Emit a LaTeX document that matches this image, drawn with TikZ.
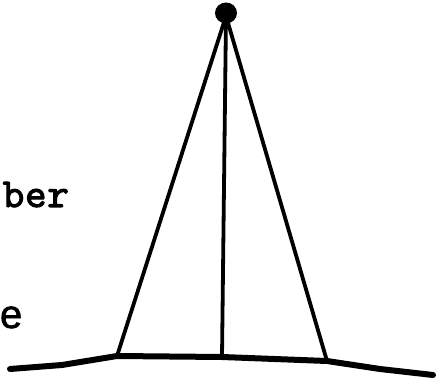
\documentclass[tikz,border=0pt]{standalone}
\usepackage{fontspec}
\newfontfamily\twf{lmmono10-regular.otf}[LetterSpace=2,FakeBold=2.5]
\newfontfamily\sansf{Liberation Sans}[FakeBold=1.5]
\begin{document}
\begin{tikzpicture}[x=1pt,y=-1pt,
  leg/.style={line width=3.8pt,line cap=round},
  groundline/.style={line width=6pt,line cap=round,line join=round},
  lbl/.style={inner sep=0pt,outer sep=0pt}]
\useasboundingbox (0,0) rectangle (442,382);
% apex and feet
\coordinate (apex) at (226,16);
\coordinate (lf) at (117,356);
\coordinate (cf) at (222,357);
\coordinate (rf) at (327,361);
\coordinate (gl) at (10,369);
\coordinate (gl2) at (62,365);
\coordinate (gr2) at (380,369);
\coordinate (gr) at (433,375);
% legs
\draw[leg] (apex) -- (lf);
\draw[leg] (apex) -- (cf);
\draw[leg] (apex) -- (rf);
% ground
\draw[groundline] (gl) -- (gl2) -- (lf) -- (cf) -- (rf) -- (gr2) -- (gr);
% top ball
\fill (226,13) ellipse [x radius=11pt, y radius=10.5pt];
% labels
\node[lbl,anchor=base east,font=\twf\fontsize{41}{45}\selectfont] (ber) at (69,207) {ber};
\node[lbl,anchor=base west,font=\sansf\fontsize{40}{44}\selectfont] (e) at (0,328) {e};
\end{tikzpicture}
\end{document}
